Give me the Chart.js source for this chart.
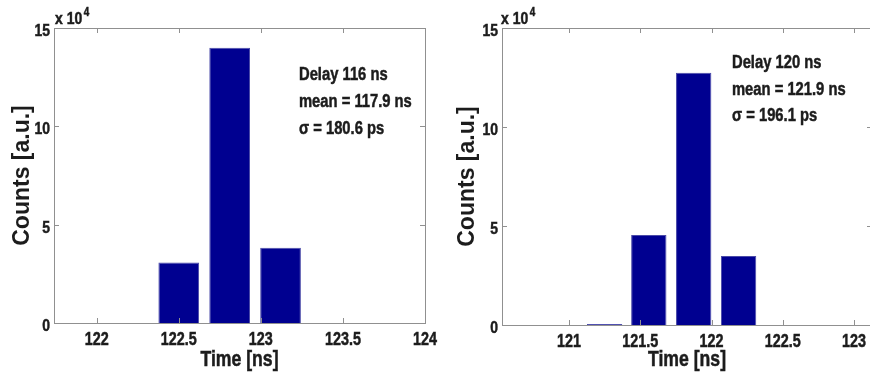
<!DOCTYPE html>
<html>
<head>
<meta charset="utf-8">
<script src="https://cdn.jsdelivr.net/npm/chart.js@4.4.1/dist/chart.umd.min.js"></script>
<style>
  html, body { margin: 0; padding: 0; background: #fff; }
  #wrap { position: relative; width: 870px; height: 377px; overflow: hidden; }
  canvas { position: absolute; top: 0; }
</style>
</head>
<body>
<div id="wrap">
  <canvas id="left" width="440" height="377" style="left:0"></canvas>
  <canvas id="right" width="440" height="377" style="left:440px"></canvas>
</div>
<script>
// ---- data ----
// left panel: delay 116 ns
const leftTimes = [122.5, 122.81, 123.12];          // bin centres (ns)
const leftCounts = [30700, 140000, 38300];
const leftXTicks = [122, 122.5, 123, 123.5, 124];
const leftNotes = ['Delay 116 ns', 'mean = 117.9 ns', 'σ = 180.6 ps'];

// right panel: delay 120 ns
const rightTimes = [121.25, 121.56, 121.875, 122.19];
const rightCounts = [500, 45500, 127400, 34800];
const rightXTicks = [121, 121.5, 122, 122.5, 123];
const rightNotes = ['Delay 120 ns', 'mean = 121.9 ns', 'σ = 196.1 ps'];

const yTicks = [0, 50000, 100000, 150000];

const FONT = '"Liberation Sans", Arial, sans-serif';
const SQUEEZE = 0.82;   // the figure uses a narrow bold face
const BAR_COLOR = '#000090';
const BOX_COLOR = '#909090';
const TEXT_COLOR = '#1c1c1c';

// draw text narrowed horizontally, like Arial Narrow
function narrowText(ctx, text, x, y, size, align) {
    ctx.save();
    ctx.font = 'bold ' + size + 'px ' + FONT;
    ctx.textAlign = align || 'left';
    ctx.textBaseline = 'alphabetic';
    ctx.strokeStyle = TEXT_COLOR;
    ctx.lineWidth = 0.5;
    ctx.translate(x, y);
    ctx.scale(SQUEEZE, 1);
    ctx.fillText(text, 0, 0);
    ctx.strokeText(text, 0, 0);
    const w = ctx.measureText(text).width * SQUEEZE;
    ctx.restore();
    return w;
}

// Matlab-ish box with inward ticks, tick labels, exponent label and notes
const matlabBox = {
    id: 'matlabBox',
    afterDraw(chart, args, opts) {
        const {ctx, chartArea: a, scales} = chart;
        ctx.save();
        ctx.strokeStyle = BOX_COLOR;
        ctx.lineWidth = 1;
        ctx.strokeRect(a.left + 0.5, a.top + 0.5, a.right - a.left, a.bottom - a.top);
        const len = 5;
        ctx.beginPath();
        scales.x.ticks.forEach(t => {
            const px = Math.round(scales.x.getPixelForValue(t.value)) + 0.5;
            ctx.moveTo(px, a.bottom); ctx.lineTo(px, a.bottom - len);
            ctx.moveTo(px, a.top); ctx.lineTo(px, a.top + len);
        });
        scales.y.ticks.forEach(t => {
            const py = Math.round(scales.y.getPixelForValue(t.value)) + 0.5;
            ctx.moveTo(a.left, py); ctx.lineTo(a.left + len, py);
            ctx.moveTo(a.right, py); ctx.lineTo(a.right - len, py);
        });
        ctx.stroke();
        ctx.restore();

        ctx.save();
        ctx.fillStyle = TEXT_COLOR;
        scales.x.ticks.forEach(t => {
            narrowText(ctx, String(t.value), scales.x.getPixelForValue(t.value), a.bottom + 21.5, 17.5, 'center');
        });
        scales.y.ticks.forEach(t => {
            narrowText(ctx, String(t.value / 10000), a.left - 4, scales.y.getPixelForValue(t.value) + 8, 17, 'right');
        });
        narrowText(ctx, 'Time [ns]', (a.left + a.right) / 2, 366, 21.5, 'center');

        // "x 10^4"
        const w = narrowText(ctx, 'x 10', a.left + opts.expDx, a.top - 4, 17);
        narrowText(ctx, '4', a.left + opts.expDx + w + 1.5, a.top - 12, 12);

        // notes
        opts.notes.forEach((line, i) => {
            narrowText(ctx, line, opts.noteX, opts.noteY + i * opts.noteGap, 18);
        });
        ctx.restore();
    }
};

function makeChart(id, times, counts, xTicks, notes, geo) {
    const ctx = document.getElementById(id).getContext('2d');
    return new Chart(ctx, {
        type: 'bar',
        data: {
            datasets: [{
                data: times.map((t, i) => ({x: t, y: counts[i]})),
                backgroundColor: BAR_COLOR,
                borderColor: '#4a4aa8',
                borderWidth: 1,
                borderSkipped: 'bottom',
                categoryPercentage: 1.0,
                barPercentage: 0.8
            }]
        },
        options: {
            responsive: false,
            animation: false,
            layout: {padding: {left: 0, top: 28, right: geo.padRight, bottom: 0}},
            plugins: {
                legend: {display: false},
                tooltip: {enabled: false},
                matlabBox: {notes: notes, noteX: geo.noteX, noteY: geo.noteY, noteGap: geo.noteGap, expDx: geo.expDx}
            },
            scales: {
                x: {
                    type: 'linear',
                    offset: false,
                    min: geo.xMin,
                    max: geo.xMax,
                    grid: {display: false, drawTicks: false},
                    border: {display: false},
                    afterBuildTicks: s => { s.ticks = xTicks.map(v => ({value: v})); },
                    afterFit: s => { s.height = geo.xAxisH; },
                    ticks: {display: false}
                },
                y: {
                    min: 0,
                    max: 150000,
                    grid: {display: false, drawTicks: false},
                    border: {display: false},
                    afterBuildTicks: s => { s.ticks = yTicks.map(v => ({value: v})); },
                    afterFit: s => { s.width = geo.yAxisW; },
                    ticks: {display: false},
                    title: {
                        display: true,
                        text: 'Counts [a.u.]',
                        color: TEXT_COLOR,
                        padding: {top: geo.yTitlePad, bottom: 0},
                        font: {family: FONT, size: 23, weight: 'bold'}
                    }
                }
            }
        },
        plugins: [matlabBox]
    });
}

makeChart('left', leftTimes, leftCounts, leftXTicks, leftNotes, {
    xMin: 121.74, xMax: 124, padRight: 15, xAxisH: 54, yAxisW: 54, yTitlePad: 9,
    noteX: 299, noteY: 80, noteGap: 27, expDx: 1
});
makeChart('right', rightTimes, rightCounts, rightXTicks, rightNotes, {
    xMin: 120.53, xMax: 123.126, padRight: 8, xAxisH: 52, yAxisW: 62, yTitlePad: 14,
    noteX: 292, noteY: 68, noteGap: 26.5, expDx: -1
});
</script>
</body>
</html>
